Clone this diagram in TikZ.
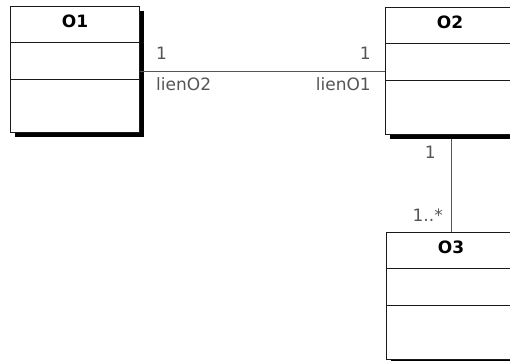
\documentclass[tikz,border=0pt]{standalone}
\usepackage{fontspec}
\setmainfont{DejaVu Sans}
\usetikzlibrary{positioning,calc,shadows}
\definecolor{linkgray}{HTML}{555555}
\definecolor{boxline}{HTML}{1A1A1A}

\begin{document}
\begin{tikzpicture}[x=1pt,y=1pt,font=\fontsize{17}{19}\selectfont,
  classbox/.style={draw=boxline, fill=white, line width=1pt, inner sep=0pt,
    minimum width=129pt,
    drop shadow={shadow xshift=4pt, shadow yshift=-4pt, fill=black, opacity=1}},
  classname/.style={font=\fontsize{17}{19}\selectfont\bfseries, inner sep=0pt},
  link/.style={draw=linkgray, line width=0.9pt},
  rolelabel/.style={text=linkgray, inner sep=1pt}]
\useasboundingbox (0,0) rectangle (510,-360);
\clip (0,0) rectangle (510,-360);
% classes
\node[classbox, minimum height=126pt, anchor=north west] (o1) at (10,-6) {};
\node[classbox, minimum height=127pt, anchor=north west] (o2) at (385,-7) {};
\node[classbox, minimum height=126.5pt, anchor=north west] (o3) at (386,-232) {};
\foreach \c/\t in {o1/O1, o2/O2, o3/O3}{
  \node[classname] (\c name) at ($(\c.north)+(0,-15)$) {\t};
  \draw[boxline, line width=1pt] ($(\c.north west)+(0,-36)$) -- ($(\c.north east)+(0,-36)$);
  \draw[boxline, line width=1pt] ($(\c.north west)+(0,-73)$) -- ($(\c.north east)+(0,-73)$);
}
% associations
\draw[link] (o1.east |- o2.west) -- (o2.west);
\draw[link, shorten <=4pt] (o2.south -| o3.north) -- (o3.north);
\node[rolelabel, anchor=south west] (m12) at ($(o1.east |- o2.west)+(15,10.5)$) {1};
\node[rolelabel, anchor=north west] (r12) at ($(o1.east |- o2.west)+(15,-5.5)$) {lienO2};
\node[rolelabel, anchor=south east] (m21) at ($(o2.west)+(-13,10.5)$) {1};
\node[rolelabel, anchor=north east] (r21) at ($(o2.west)+(-13,-5.5)$) {lienO1};
\node[rolelabel, anchor=north east] (m23) at ($(o2.south -| o3.north)+(-14,-10)$) {1};
\node[rolelabel, anchor=south east] (m32) at ($(o3.north)+(-7,9)$) {1..*};
\end{tikzpicture}
\end{document}
